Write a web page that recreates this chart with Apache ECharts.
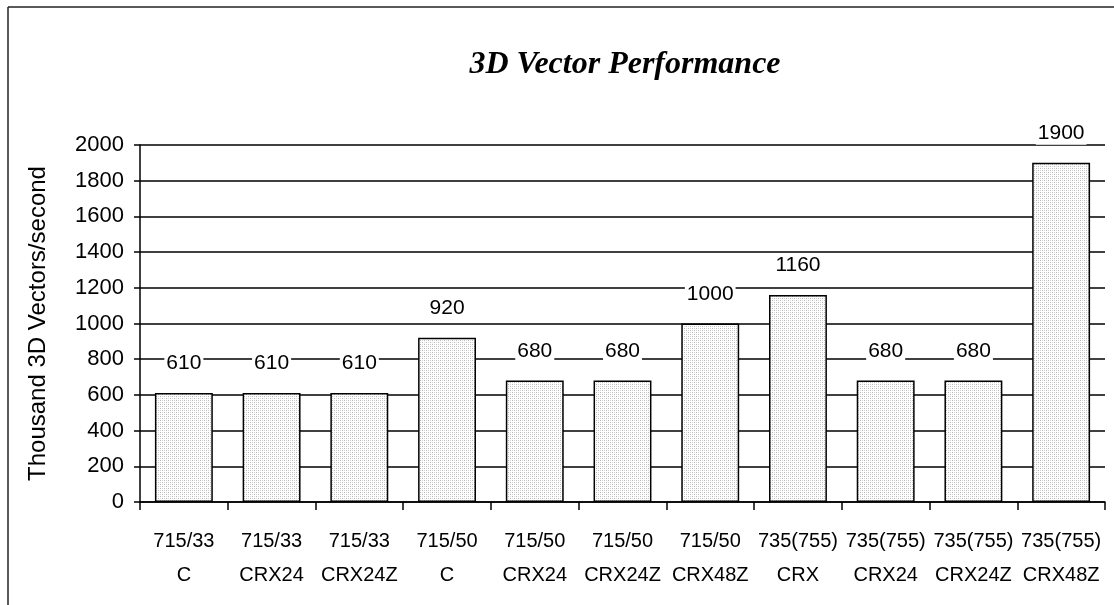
<!DOCTYPE html>
<html>
<head>
<meta charset="utf-8">
<script src="https://cdn.jsdelivr.net/npm/echarts@6/dist/echarts.min.js"></script>
<style>
  html, body { margin: 0; padding: 0; background: #fff; }
  #chart { width: 1114px; height: 605px; }
</style>
</head>
<body>
<div id="chart"></div>
<script>
// Workstation models and graphics options (two-line axis labels)
const models = ['715/33', '715/33', '715/33', '715/50', '715/50', '715/50', '715/50', '735(755)', '735(755)', '735(755)', '735(755)'];
const options = ['C', 'CRX24', 'CRX24Z', 'C', 'CRX24', 'CRX24Z', 'CRX48Z', 'CRX', 'CRX24', 'CRX24Z', 'CRX48Z'];
// Thousand 3D vectors per second
const vectorRates = [610, 610, 610, 920, 680, 680, 1000, 1160, 680, 680, 1900];
const yTicks = [0, 200, 400, 600, 800, 1000, 1200, 1400, 1600, 1800, 2000];

const categories = models.map((m, i) => m + '\n' + options[i]);

// Stippled light-grey fill for the bars
function stipple() {
  const c = document.createElement('canvas');
  c.width = 4; c.height = 4;
  const g = c.getContext('2d');
  g.fillStyle = '#ffffff';
  g.fillRect(0, 0, 4, 4);
  g.fillStyle = '#b8b8b8';
  g.fillRect(0, 0, 1, 1);
  g.fillRect(2, 2, 1, 1);
  g.fillStyle = '#d8d8d8';
  g.fillRect(2, 0, 1, 1);
  g.fillRect(0, 2, 1, 1);
  return c;
}

const sans = '"Liberation Sans", Arial, sans-serif';

const chart = echarts.init(document.getElementById('chart'), null, { renderer: 'canvas' });
chart.setOption({
  animation: false,
  backgroundColor: '#ffffff',
  title: {
    text: '3D Vector Performance',
    left: 620,
    textAlign: 'center',
    top: 44,
    textStyle: {
      fontFamily: '"Liberation Serif", "Times New Roman", serif',
      fontStyle: 'italic',
      fontWeight: 'bold',
      fontSize: 32,
      color: '#000'
    }
  },
  graphic: [
    { type: 'line', shape: { x1: 8, y1: 7, x2: 1114, y2: 7 }, style: { stroke: '#222', lineWidth: 1.5 } },
    { type: 'line', shape: { x1: 8, y1: 7, x2: 8, y2: 605 }, style: { stroke: '#222', lineWidth: 1.5 } }
  ],
  grid: { left: 140, right: 9, top: 145, bottom: 103, containLabel: false },
  xAxis: {
    type: 'category',
    data: categories,
    axisLine: { lineStyle: { color: '#000', width: 1.5 } },
    axisTick: { show: true, length: 8, lineStyle: { color: '#000', width: 1.5 } },
    axisLabel: {
      color: '#000',
      fontFamily: sans,
      fontSize: 20,
      lineHeight: 34,
      margin: 22,
      interval: 0
    }
  },
  yAxis: {
    type: 'value',
    min: yTicks[0],
    max: yTicks[yTicks.length - 1],
    interval: 200,
    name: 'Thousand 3D Vectors/second',
    nameLocation: 'middle',
    nameGap: 90,
    nameTextStyle: { color: '#000', fontFamily: sans, fontSize: 24 },
    axisLine: { show: true, lineStyle: { color: '#000', width: 1.5 } },
    axisTick: { show: true, length: 6, lineStyle: { color: '#000', width: 1.5 } },
    splitLine: { show: true, lineStyle: { color: '#000', width: 1.5 } },
    axisLabel: {
      color: '#000',
      fontFamily: sans,
      fontSize: 22,
      margin: 16,
      formatter: v => String(v)
    }
  },
  series: [{
    type: 'bar',
    data: vectorRates,
    barCategoryGap: '34%',
    itemStyle: {
      color: { image: stipple(), repeat: 'repeat' },
      borderColor: '#000',
      borderWidth: 1.5
    },
    label: {
      show: true,
      position: 'top',
      distance: 18,
      color: '#000',
      fontFamily: sans,
      fontSize: 21,
      backgroundColor: '#fff',
      padding: [1, 2]
    }
  }]
});
</script>
</body>
</html>
